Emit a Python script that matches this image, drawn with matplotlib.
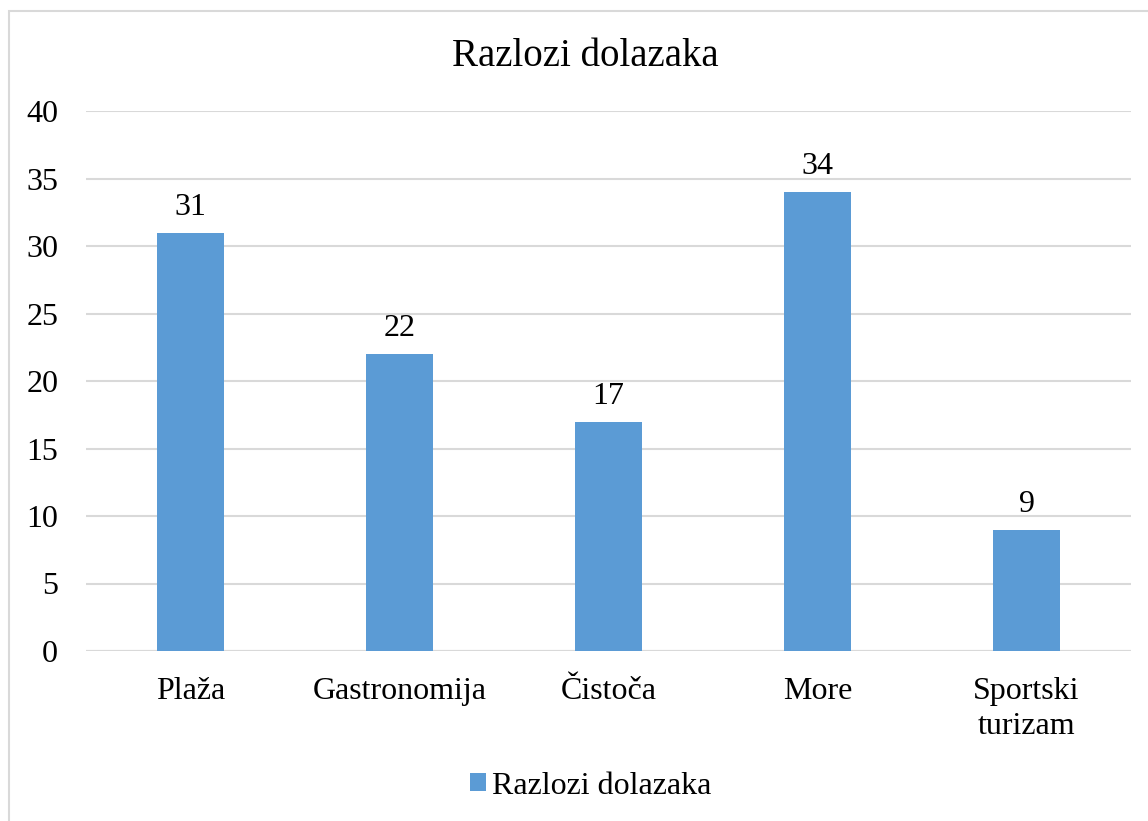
import matplotlib.pyplot as plt
from matplotlib.patches import Rectangle

# data
categories = ["Plaža", "Gastronomija", "Čistoča", "More", "Sportski\nturizam"]
values = [31, 22, 17, 34, 9]
series_name = "Razlozi dolazaka"
y_ticks = [0, 5, 10, 15, 20, 25, 30, 35, 40]

bar_color = "#5b9bd5"
grid_color = "#d9d9d9"

plt.rcParams['font.family'] = ['Liberation Serif', 'DejaVu Serif']

fig = plt.figure(figsize=(11.48, 8.21), dpi=100)
# axes placed in pixel terms: x 86..1131, y 111..651 (from top)
W, H = 1148, 821
ax = fig.add_axes([86 / W, 1 - 651 / H, (1131 - 86) / W, (651 - 111) / H])

x = range(len(categories))
bars = ax.bar(x, values, width=0.316, color=bar_color, label=series_name, zorder=3)

for xi, v in zip(x, values):
    ax.text(xi, v + 0.8, str(v), ha='center', va='bottom', fontsize=23)

ax.set_xlim(-0.5, len(categories) - 0.5)
ax.set_ylim(0, 40)
ax.set_yticks(y_ticks)
ax.set_xticks(list(x))
ax.set_xticklabels(categories, fontsize=23, linespacing=1.25)
ax.tick_params(axis='y', labelsize=23, length=0, pad=20)
ax.tick_params(axis='x', length=0, pad=19)
ax.yaxis.grid(True, color=grid_color, linewidth=1.5, zorder=0)
for s in ax.spines.values():
    s.set_visible(False)
ax.axhline(0, color=grid_color, linewidth=1.5, zorder=2)

fig.text(585 / W, 1 - 56 / H, "Razlozi dolazaka", ha='center', va='center', fontsize=28)

leg = fig.legend(handles=[bars], labels=[series_name], loc='center',
                 bbox_to_anchor=(591 / W, 1 - 786 / H), frameon=False,
                 fontsize=23, handlelength=0.5, handleheight=0.5, handletextpad=0.2)

# outer chart border (only left/top visible in reference)
fig.patches.append(Rectangle((8.5 / W, -0.1), 1.2, (1 - 11.5 / H) + 0.1,
                             transform=fig.transFigure, fill=False,
                             edgecolor=grid_color, linewidth=1.5))

fig.savefig("out.png", dpi=100)
